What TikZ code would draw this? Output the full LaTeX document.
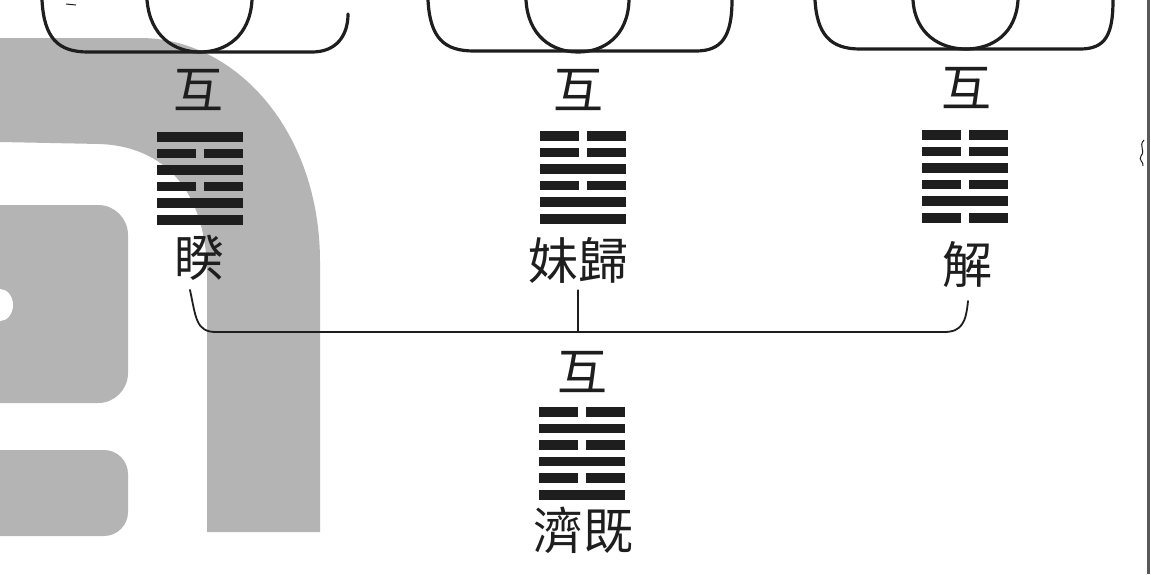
\documentclass[tikz,border=0pt]{standalone}
\usepackage{fontspec}
\newfontfamily\cjk{Noto Sans CJK TC}
\definecolor{markgray}{RGB}{180,180,180}
\definecolor{ink}{RGB}{30,30,30}

% one hexagram: centre x, top y, lines from the top (1 = whole, 0 = broken)
\newcommand{\guaxiang}[3]{%
  \foreach \l [count=\i from 0] in {#3} {
    \pgfmathsetmacro\yy{#2+\i*16.6}
    \ifnum\l=1
      \fill[yao] (#1-43,\yy) rectangle (#1+43,\yy+9.5);
    \else
      \fill[yao] (#1-43,\yy) rectangle (#1-4,\yy+9.5);
      \fill[yao] (#1+4,\yy) rectangle (#1+43,\yy+9.5);
    \fi
  }}

\begin{document}
\begin{tikzpicture}[x=1pt,y=-1pt,
    yao/.style={fill=ink},
    word/.style={font=\cjk\fontsize{50}{50}\selectfont,text=ink,inner sep=1pt},
    rim/.style={draw=ink,line width=3.2pt,line cap=round},
    link/.style={draw=ink,line width=1.8pt,line cap=round}]
    \useasboundingbox (0,0) rectangle (1151,574);
    \fill[white] (0,0) rectangle (1151,574);
    % watermark behind the page
    \fill[markgray] (0,38) -- (140,38) .. controls (235,38) and (320,130) .. (320,262) -- (320,532) -- (207,532) -- (207,275) .. controls (207,200) and (172,147) .. (100,144) -- (0,142) -- cycle;
    \fill[markgray,rounded corners=30pt] (-40,205) rectangle (128,403);
    \fill[white] (0,305) ellipse [x radius=13, y radius=16];
    \fill[markgray,rounded corners=24pt] (-40,450) rectangle (128,536);
    % cut-off rims at the top
    \draw[rim] (42,0) .. controls (44,38) and (58,52) .. (88,52) -- (312,52) .. controls (336,52) and (348,36) .. (348,14);
    \draw[rim] (147,0) .. controls (150,36) and (174,52) .. (200,52) .. controls (226,52) and (250,36) .. (252,0);
    \draw[rim] (428,0) .. controls (430,38) and (444,51) .. (474,51) -- (696,51) .. controls (722,51) and (732,36) .. (732,0);
    \draw[rim] (526,0) .. controls (528,36) and (552,52) .. (578,52) .. controls (604,52) and (628,36) .. (629,0);
    \draw[rim] (815,0) .. controls (817,34) and (830,49) .. (860,49) -- (1080,49) .. controls (1106,49) and (1113,34) .. (1113,0);
    \draw[rim] (913,0) .. controls (915,34) and (940,49) .. (966,49) .. controls (992,49) and (1016,34) .. (1018,0);
    \draw[ink,line width=1pt] (66,4) -- (76,5);
    % first row
    \node[word] (hu1) at (198,90) {互};
    \guaxiang{200}{132}{1,0,1,0,1,1}
    \node[word] (kui) at (199,258) {睽};
    \node[word] (hu2) at (578,90) {互};
    \guaxiang{583}{131}{0,0,1,0,1,1}
    \node[word] (guimei) at (578,260) {妹歸};
    \node[word] (hu3) at (966,88) {互};
    \guaxiang{965}{130}{0,0,1,0,1,0}
    \node[word] (xie) at (967,265) {解};
    % bracket
    \coordinate (kuitip) at (190,290);
    \coordinate (xietip) at (968,301);
    \coordinate (bar) at (580,332);
    \draw[link] (kuitip) .. controls (196,318) and (196,332) .. (216,332) -- (944,332) .. controls (962,332) and (966,322) .. (xietip);
    \draw[link] ([yshift=-6pt]guimei.south) -- (guimei.south |- bar);
    % second row
    \node[word] (hu4) at (582,372) {互};
    \guaxiang{582}{407}{0,1,0,1,0,1}
    \node[word] (jiji) at (583,530) {濟既};
    % page edge
    \draw[black!65,line width=3pt] (1148,0) -- (1148,574);
    \draw[ink,line width=1pt] (1144,140) .. controls (1138,146) and (1146,150) .. (1141,156) .. controls (1138,160) and (1144,162) .. (1143,166);
\end{tikzpicture}
\end{document}
